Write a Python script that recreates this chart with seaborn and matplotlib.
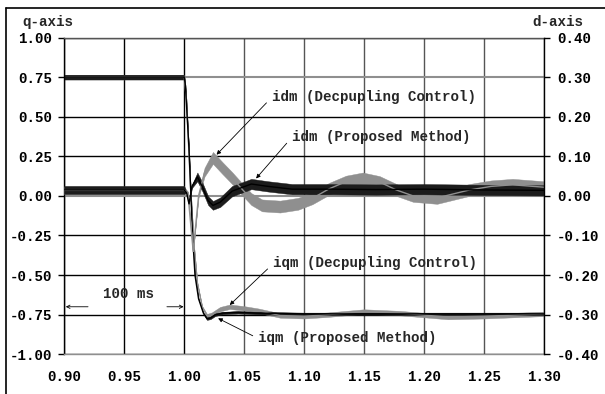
import numpy as np
import pandas as pd
import matplotlib
matplotlib.use("Agg")
import matplotlib.pyplot as plt
import seaborn as sns
from matplotlib.lines import Line2D

# time axis (s) and read-off values; q-axis currents on the left, d-axis on the right
t_iq_prop = [0.90, 1.000, 1.001, 1.004, 1.007, 1.009, 1.012, 1.016, 1.019, 1.022,
             1.026, 1.032, 1.045, 1.060, 1.100, 1.200, 1.300]
iq_prop   = [0.75, 0.75, 0.70, 0.30, -0.25, -0.50, -0.65, -0.74, -0.775, -0.77,
             -0.75, -0.74, -0.735, -0.74, -0.745, -0.745, -0.745]
rip_iq_prop = [0.015, 0.015, 0, 0, 0, 0, 0, 0.004, 0.008, 0.008,
               0.008, 0.008, 0.008, 0.008, 0.008, 0.008, 0.008]

t_iq_dec = [0.90, 1.000, 1.002, 1.005, 1.008, 1.011, 1.015, 1.019, 1.023, 1.030,
            1.038, 1.050, 1.062, 1.080, 1.100, 1.120, 1.150, 1.180, 1.220, 1.250, 1.300]
iq_dec   = [0.75, 0.75, 0.60, 0.10, -0.30, -0.55, -0.70, -0.755, -0.75, -0.715,
            -0.70, -0.71, -0.725, -0.755, -0.76, -0.75, -0.73, -0.74, -0.765, -0.76, -0.745]
rip_iq_dec = [0.015, 0.015, 0, 0, 0, 0, 0.004, 0.01, 0.014, 0.014,
              0.014, 0.014, 0.014, 0.014, 0.014, 0.014, 0.014, 0.014, 0.014, 0.014, 0.014]

t_id_prop = [0.90, 1.000, 1.002, 1.004, 1.0065, 1.011, 1.015, 1.020, 1.024, 1.030,
             1.040, 1.056, 1.070, 1.090, 1.120, 1.160, 1.200, 1.250, 1.300]
id_prop   = [0.015, 0.015, 0.008, -0.02, 0.024, 0.048, 0.024, -0.012, -0.024, -0.016,
             0.012, 0.030, 0.024, 0.017, 0.017, 0.016, 0.017, 0.015, 0.014]
rip_id_prop = [0.010, 0.010, 0, 0, 0.004, 0.011, 0.011, 0.011, 0.011, 0.012,
               0.013, 0.013, 0.013, 0.013, 0.013, 0.013, 0.013, 0.013, 0.013]

t_id_dec = [0.90, 1.000, 1.003, 1.0075, 1.012, 1.017, 1.024, 1.032, 1.040, 1.048,
            1.056, 1.065, 1.080, 1.095, 1.107, 1.121, 1.135, 1.149, 1.163, 1.177,
            1.191, 1.211, 1.238, 1.256, 1.274, 1.300]
id_dec   = [0.014, 0.014, 0.010, -0.14, 0.0, 0.06, 0.096, 0.07, 0.045, 0.018,
            -0.008, -0.024, -0.027, -0.02, -0.006, 0.018, 0.036, 0.044, 0.035, 0.015,
            0.0, -0.005, 0.015, 0.024, 0.028, 0.022]
rip_id_dec = [0.010, 0.010, 0, 0, 0.004, 0.011, 0.015, 0.015, 0.015, 0.015,
              0.015, 0.015, 0.015, 0.015, 0.015, 0.015, 0.015, 0.015, 0.015, 0.015,
              0.015, 0.015, 0.015, 0.015, 0.015, 0.015]

x_ticks = [0.90, 0.95, 1.00, 1.05, 1.10, 1.15, 1.20, 1.25, 1.30]
q_ticks = [1.00, 0.75, 0.50, 0.25, 0.00, -0.25, -0.50, -0.75, -1.00]
d_ticks = [0.40, 0.30, 0.20, 0.10, 0.00, -0.10, -0.20, -0.30, -0.40]

GRAY = "#8f8f8f"
FS = 10.2

sns.set_theme(style="white")
plt.rcParams["font.family"] = ["Liberation Mono", "DejaVu Sans Mono"]
plt.rcParams["font.weight"] = "bold"
plt.rcParams["axes.unicode_minus"] = False


def draw(axis, t, y, rip, color, band):
    df = pd.DataFrame({"t": t, "y": y})
    sns.lineplot(data=df, x="t", y="y", ax=axis, color=color, lw=1.0)
    lo = np.array(y) - np.array(rip)
    hi = np.array(y) + np.array(rip)
    axis.fill_between(t, lo, hi, color=band, lw=0.3, ec=band)


fig = plt.figure(figsize=(6.05, 3.94), dpi=100)
ax = fig.add_axes([0.1063, 0.1008, 0.7925, 0.804])
ax2 = ax.twinx()

draw(ax, t_iq_dec, iq_dec, rip_iq_dec, GRAY, GRAY)
draw(ax, t_iq_prop, iq_prop, rip_iq_prop, "black", "#1c1c1c")
draw(ax2, t_id_dec, id_dec, rip_id_dec, GRAY, GRAY)
draw(ax2, t_id_prop, id_prop, rip_id_prop, "black", "#1c1c1c")

ax.set_xlim(0.90, 1.30)
ax.set_ylim(-1.0, 1.0)
ax2.set_ylim(-0.4, 0.4)
for a in (ax, ax2):
    a.set_xlabel("")
    a.set_ylabel("")

ax.set_xticks(x_ticks)
ax.set_xticklabels([f"{v:.2f}" for v in x_ticks], fontsize=FS, weight="bold")
ax.set_yticks(q_ticks)
ax.set_yticklabels([f"{v:.2f}" for v in q_ticks], fontsize=FS, weight="bold")
ax2.set_yticks(d_ticks)
ax2.set_yticklabels([f"{v:.2f}" for v in d_ticks], fontsize=FS, weight="bold")

ax.tick_params(axis="x", bottom=False, length=0, pad=11, colors="black")
ax.tick_params(axis="y", left=True, length=4.5, width=1, pad=4.5, colors="black")
ax2.tick_params(axis="y", right=True, length=4.5, width=1, pad=5, colors="black")

ax.grid(True, color="black", lw=1.0)
for g, v in zip(ax.get_xgridlines(), x_ticks):
    if v >= 1.05:
        g.set_color("#555555")
for g, v in zip(ax.get_ygridlines(), q_ticks):
    if v in (0.75, 0.0):
        g.set_color(GRAY)
        g.set_linewidth(1.5)

ax.spines["left"].set_color("black")
ax.spines["top"].set_color("#555555")
ax.spines["bottom"].set_color(GRAY)
ax.spines["right"].set_visible(False)
for s in ("left", "top", "bottom"):
    ax2.spines[s].set_visible(False)
ax2.spines["right"].set_color("black")
for s in ax.spines.values():
    s.set_linewidth(1.0)
ax2.spines["right"].set_linewidth(1.0)

arrow = dict(arrowstyle="-|>", color="black", lw=0.6, shrinkA=2, shrinkB=0,
             mutation_scale=6, relpos=(0, 0.45))
notes = [
    ("idm (Decpupling Control)", (1.027, 0.26), (1.073, 0.626)),
    ("idm (Proposed Method)", (1.060, 0.11), (1.0898, 0.374)),
    ("iqm (Decpupling Control)", (1.038, -0.689), (1.074, -0.425)),
    ("iqm (Proposed Method)", (1.0283, -0.773), (1.062, -0.897)),
]
for txt, tip, pos in notes:
    ax2.annotate(txt, xy=tip, xytext=pos, xycoords=ax.transData, textcoords=ax.transData,
                 ha="left", va="center", fontsize=FS, weight="bold", arrowprops=arrow)

ax2.text(0.9532, -0.619, "100 ms", transform=ax.transData, ha="center", va="center",
         fontsize=FS, weight="bold")
span = dict(arrowstyle="->", color="black", lw=0.6, shrinkA=0, shrinkB=0, mutation_scale=6)
ax2.annotate("", xy=(0.9012, -0.70), xytext=(0.9198, -0.70),
             xycoords=ax.transData, textcoords=ax.transData, arrowprops=span)
ax2.annotate("", xy=(0.9995, -0.70), xytext=(0.9856, -0.70),
             xycoords=ax.transData, textcoords=ax.transData, arrowprops=span)

fig.text(0.0375, 0.945, "q-axis", ha="left", va="center", fontsize=FS, weight="bold")
fig.text(0.964, 0.945, "d-axis", ha="right", va="center", fontsize=FS, weight="bold")

fx, fy = 5.5 / 605, 1 - 7.5 / 394
fig.add_artist(Line2D([fx, fx], [0, fy], transform=fig.transFigure, color="black", lw=1.2))
fig.add_artist(Line2D([fx, 1], [fy, fy], transform=fig.transFigure, color="black", lw=1.2))

fig.savefig("out.png", dpi=100)
